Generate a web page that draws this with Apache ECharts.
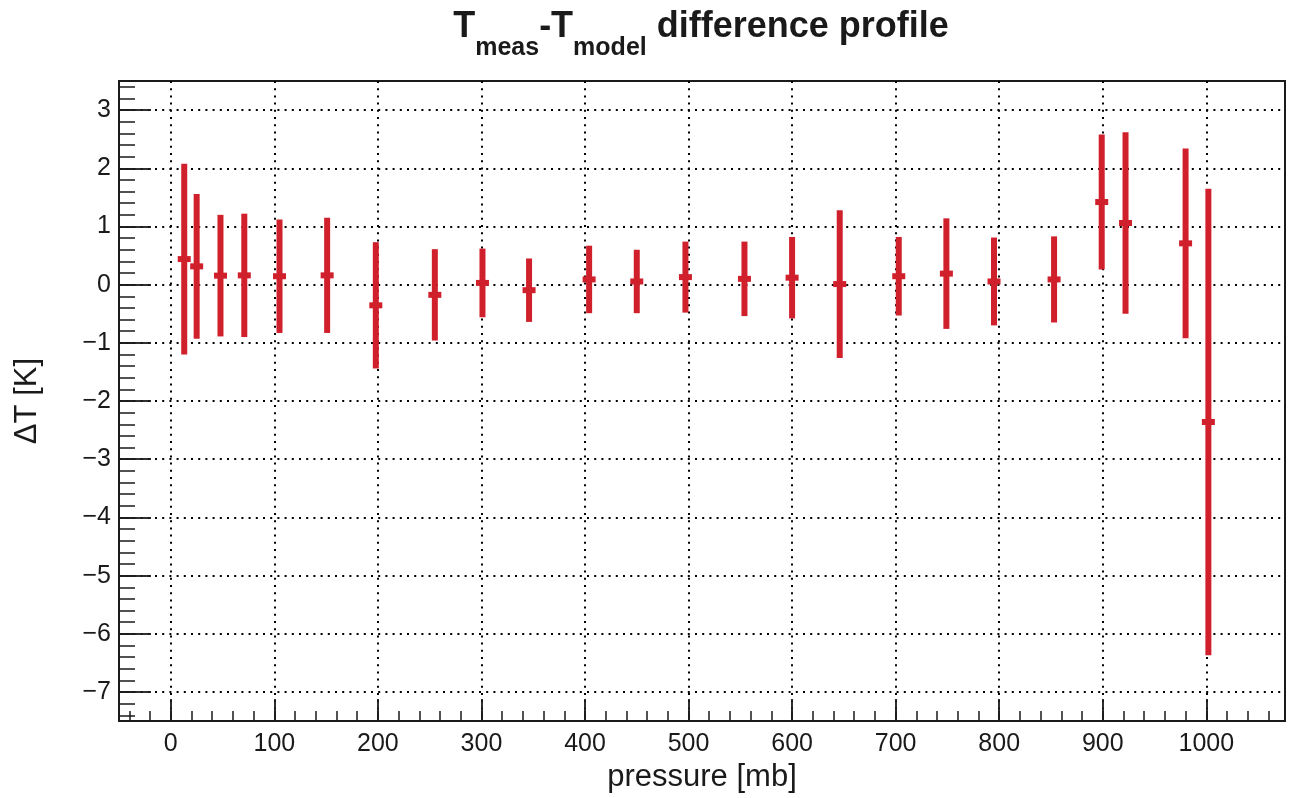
<!DOCTYPE html>
<html>
<head>
<meta charset="utf-8">
<script src="https://cdn.jsdelivr.net/npm/echarts@6/dist/echarts.min.js"></script>
<style>
html,body{margin:0;padding:0;background:#fff;}
#chart{width:1292px;height:798px;}
</style>
</head>
<body>
<div id="chart"></div>
<script>
// ---- data ----
const pressure = [13, 25, 48, 71, 105, 151, 198, 255, 301, 346, 404, 450, 497, 554, 600, 646, 703, 749, 795, 853, 899, 922, 980, 1002];
const deltaT   = [0.44, 0.315, 0.155, 0.16, 0.145, 0.16, -0.355, -0.175, 0.03, -0.095, 0.09, 0.055, 0.13, 0.10, 0.12, 0.01, 0.145, 0.19, 0.055, 0.09, 1.42, 1.06, 0.71, -2.36];
const errorT   = [1.64, 1.245, 1.045, 1.06, 0.975, 0.99, 1.085, 0.785, 0.59, 0.545, 0.58, 0.545, 0.61, 0.64, 0.70, 1.27, 0.675, 0.95, 0.755, 0.74, 1.16, 1.56, 1.63, 4.01];
const xTicks = [0, 100, 200, 300, 400, 500, 600, 700, 800, 900, 1000];
const yTicks = [-7, -6, -5, -4, -3, -2, -1, 0, 1, 2, 3];

const X_MIN = -50, X_MAX = 1076, Y_MIN = -7.5, Y_MAX = 3.5;
const xMinor = [];
for (let v = -40; v <= X_MAX; v += 20) xMinor.push(v);
const yMinor = [];
for (let i = -37; i <= 17; i++) yMinor.push(i / 5);

const RED = '#d0202b';
const INK = '#1a1a1a';
const FONT = 'Liberation Sans';

const points = pressure.map((p, i) => [p, deltaT[i], errorT[i]]);

const gridLine = { show: true, lineStyle: { color: '#000', width: 2, type: [2, 5.2] } };

const chart = echarts.init(document.getElementById('chart'), null, { renderer: 'canvas' });
chart.setOption({
  animation: false,
  backgroundColor: '#fff',
  title: {
    text: '{b|T}{s|meas}{b|-T}{s|model}{b| difference profile}',
    left: 701,
    top: 9,
    padding: 0,
    textAlign: 'center',
    textStyle: {
      rich: {
        b: { fontFamily: FONT, fontWeight: 'bold', fontSize: 36, color: INK, padding: [0, 0, 21, 0] },
        s: { fontFamily: FONT, fontWeight: 'bold', fontSize: 25, color: INK, padding: [21, 0, 0, 0] }
      }
    }
  },
  grid: {
    left: 119, right: 7, top: 81, bottom: 76,
    show: true, borderColor: INK, borderWidth: 2, backgroundColor: 'transparent'
  },
  xAxis: [
    {
      type: 'value', min: X_MIN, max: X_MAX, position: 'bottom',
      axisLine: { onZero: false, lineStyle: { color: INK, width: 2 } },
      axisTick: { inside: true, length: 10, customValues: xMinor, lineStyle: { color: INK, width: 1.5 } },
      axisLabel: { show: false },
      splitLine: { show: false }
    },
    {
      type: 'value', min: X_MIN, max: X_MAX, position: 'bottom',
      axisLine: { show: false, onZero: false },
      axisTick: { inside: true, length: 22, customValues: xTicks, lineStyle: { color: INK, width: 1.8 } },
      axisLabel: { customValues: xTicks, fontFamily: FONT, fontSize: 25, color: INK, margin: 11,
        formatter: v => String(v) },
      splitLine: gridLine,
      name: 'pressure [mb]', nameLocation: 'middle', nameGap: 40,
      nameTextStyle: { fontFamily: FONT, fontSize: 31, color: INK }
    }
  ],
  yAxis: [
    {
      type: 'value', min: Y_MIN, max: Y_MAX, position: 'left',
      axisLine: { onZero: false, lineStyle: { color: INK, width: 2 } },
      axisTick: { inside: true, length: 16, customValues: yMinor, lineStyle: { color: INK, width: 1.5 } },
      axisLabel: { show: false },
      splitLine: { show: false }
    },
    {
      type: 'value', min: Y_MIN, max: Y_MAX, position: 'left',
      axisLine: { show: false, onZero: false },
      axisTick: { inside: true, length: 32, customValues: yTicks, lineStyle: { color: INK, width: 1.8 } },
      axisLabel: {
        customValues: yTicks, fontFamily: FONT, fontSize: 25, color: INK, margin: 8,
        formatter: v => (v < 0 ? '\u2212' + Math.abs(v) : String(v))
      },
      splitLine: gridLine,
      name: '\u0394T [K]', nameLocation: 'middle', nameGap: 76,
      nameTextStyle: { fontFamily: FONT, fontSize: 31, color: INK }
    }
  ],
  series: [{
    type: 'custom',
    xAxisIndex: 0, yAxisIndex: 0,
    data: points,
    encode: { x: 0, y: 1 },
    renderItem: function (params, api) {
      const x = api.value(0), y = api.value(1), e = api.value(2);
      const top = api.coord([x, y + e]);
      const bot = api.coord([x, y - e]);
      const mid = api.coord([x, y]);
      return {
        type: 'group',
        children: [
          { type: 'line', shape: { x1: top[0], y1: top[1], x2: bot[0], y2: bot[1] },
            style: { stroke: RED, lineWidth: 6 } },
          { type: 'rect', shape: { x: mid[0] - 6.5, y: mid[1] - 3, width: 13, height: 6 },
            style: { fill: RED } }
        ]
      };
    }
  }]
});
</script>
</body>
</html>
